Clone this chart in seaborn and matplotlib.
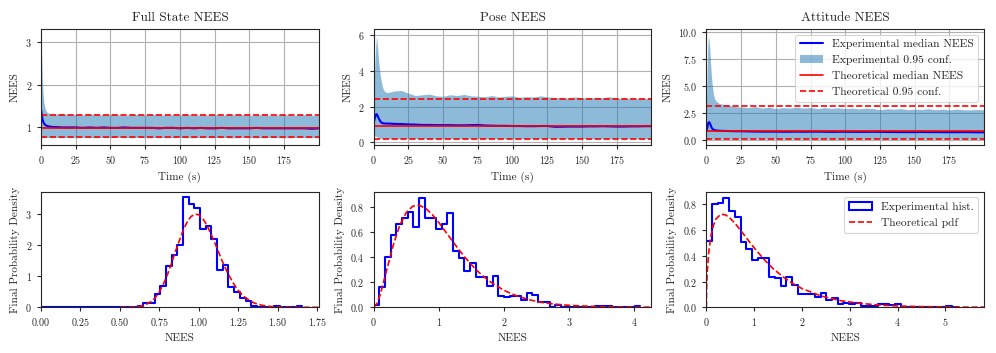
import numpy as np
import pandas as pd
import seaborn as sns
import matplotlib.pyplot as plt
from matplotlib.lines import Line2D
from matplotlib.patches import Patch
from matplotlib.ticker import MultipleLocator

titles = ['Full State NEES', 'Pose NEES', 'Attitude NEES']

# time axis (s)
time_s = [0, 0.5, 1, 1.5, 2, 2.5, 3, 3.5, 4, 5, 6, 7, 8, 9, 10,
          15, 20, 25, 30, 35, 40, 45, 50, 55, 60, 65, 70, 75, 80, 85, 90, 95, 100,
          105, 110, 115, 120, 125, 130, 135, 140, 145, 150, 155, 160, 165, 170, 175, 180,
          185, 190, 195, 199.9]

# full state
full_high = [3.15, 2.60, 2.05, 1.78, 1.60, 1.50, 1.44, 1.40, 1.37, 1.34, 1.33, 1.31, 1.32, 1.30, 1.31,
             1.33, 1.30, 1.31, 1.29, 1.32, 1.30, 1.29, 1.31, 1.30, 1.28, 1.31, 1.30, 1.29, 1.31, 1.30, 1.28, 1.30, 1.29,
             1.31, 1.28, 1.30, 1.29, 1.30, 1.28, 1.31, 1.29, 1.30, 1.28, 1.29, 1.30, 1.28, 1.29, 1.31, 1.28,
             1.29, 1.30, 1.28, 1.29]
full_low = [0.80, 0.79, 0.78, 0.78, 0.77, 0.77, 0.77, 0.76, 0.77, 0.76, 0.77, 0.76, 0.77, 0.76, 0.77,
            0.76, 0.77, 0.76, 0.77, 0.76, 0.76, 0.77, 0.76, 0.77, 0.76, 0.76, 0.77, 0.76, 0.76, 0.77, 0.76, 0.76, 0.77,
            0.76, 0.76, 0.77, 0.76, 0.76, 0.77, 0.76, 0.76, 0.77, 0.76, 0.76, 0.76, 0.77, 0.76, 0.76, 0.76,
            0.77, 0.76, 0.76, 0.76]
full_med = [1.42, 1.30, 1.20, 1.14, 1.10, 1.08, 1.06, 1.05, 1.04, 1.03, 1.02, 1.02, 1.01, 1.01, 1.01,
            1.00, 1.00, 1.00, 0.99, 1.00, 0.99, 1.00, 0.99, 0.99, 1.00, 0.99, 0.99, 0.99, 0.99, 0.98, 0.99, 0.99, 0.98,
            0.99, 0.98, 0.99, 0.98, 0.98, 0.99, 0.98, 0.98, 0.98, 0.98, 0.99, 0.98, 0.98, 0.98, 0.98, 0.98,
            0.98, 0.98, 0.97, 0.98]

# pose
pose_high = [3.00, 3.80, 4.60, 5.40, 5.95, 5.60, 5.10, 4.60, 4.20, 3.60, 3.20, 2.95, 2.85, 2.80, 2.78,
             2.88, 2.90, 2.75, 2.62, 2.66, 2.70, 2.60, 2.58, 2.66, 2.62, 2.68, 2.60, 2.58, 2.55, 2.62, 2.54, 2.58, 2.60,
             2.52, 2.56, 2.54, 2.60, 2.55, 2.50, 2.52, 2.48, 2.54, 2.50, 2.48, 2.52, 2.50, 2.55, 2.46, 2.48,
             2.46, 2.47, 2.45, 2.46]
pose_low = [0.33, 0.35, 0.36, 0.34, 0.32, 0.30, 0.28, 0.26, 0.24, 0.22, 0.21, 0.20, 0.20, 0.21, 0.20,
            0.20, 0.19, 0.21, 0.20, 0.20, 0.19, 0.20, 0.21, 0.20, 0.19, 0.20, 0.20, 0.21, 0.20, 0.19, 0.20, 0.20, 0.21,
            0.20, 0.19, 0.20, 0.20, 0.21, 0.20, 0.19, 0.20, 0.20, 0.21, 0.20, 0.19, 0.20, 0.20, 0.21, 0.20,
            0.20, 0.19, 0.20, 0.20]
pose_med = [1.10, 1.25, 1.40, 1.52, 1.58, 1.52, 1.45, 1.36, 1.28, 1.15, 1.08, 1.06, 1.05, 1.05, 1.05,
            1.03, 1.02, 1.00, 0.99, 0.97, 0.97, 0.96, 0.96, 0.96, 0.95, 0.95, 0.96, 0.97, 0.94, 0.93, 0.92, 0.92, 0.91,
            0.91, 0.90, 0.90, 0.91, 0.91, 0.87, 0.87, 0.88, 0.88, 0.88, 0.89, 0.89, 0.90, 0.89, 0.88, 0.88,
            0.89, 0.89, 0.90, 0.90]

# attitude
att_high = [3.20, 6.00, 8.50, 9.70, 9.20, 8.40, 7.20, 6.20, 5.40, 4.30, 3.80, 3.60, 3.50, 3.40, 3.35,
            3.25, 3.10, 3.05, 3.00, 3.10, 2.95, 3.05, 2.90, 3.00, 2.95, 3.05, 2.95, 3.00, 2.90, 3.00, 2.92, 2.98, 2.90,
            2.95, 2.88, 2.95, 2.90, 2.80, 2.88, 2.85, 2.90, 2.80, 2.85, 2.82, 2.88, 2.80, 2.85, 2.78, 2.85,
            2.80, 2.78, 2.82, 2.80]
att_low = [0.12, 0.12, 0.11, 0.10, 0.10, 0.09, 0.09, 0.09, 0.08, 0.08, 0.08, 0.08, 0.07, 0.08, 0.07,
           0.08, 0.07, 0.08, 0.07, 0.08, 0.07, 0.08, 0.07, 0.07, 0.08, 0.07, 0.08, 0.07, 0.07, 0.08, 0.07, 0.08, 0.07,
           0.07, 0.08, 0.07, 0.07, 0.08, 0.07, 0.07, 0.08, 0.07, 0.07, 0.08, 0.07, 0.07, 0.08, 0.07, 0.07,
           0.08, 0.07, 0.07, 0.07]
att_med = [0.80, 1.05, 1.35, 1.60, 1.65, 1.55, 1.40, 1.22, 1.08, 0.95, 0.90, 0.87, 0.86, 0.85, 0.84,
           0.82, 0.80, 0.80, 0.78, 0.77, 0.76, 0.76, 0.76, 0.75, 0.75, 0.76, 0.75, 0.76, 0.76, 0.75, 0.74, 0.75, 0.75,
           0.74, 0.74, 0.74, 0.75, 0.74, 0.73, 0.73, 0.72, 0.72, 0.72, 0.73, 0.72, 0.72, 0.71, 0.71, 0.71,
           0.72, 0.71, 0.70, 0.70]

theo_median = [0.995, 0.891, 0.789]
theo_low = [0.766, 0.206, 0.072]
theo_high = [1.297, 2.408, 3.116]

# final histograms (density per bin, bins start at 0)
bin_width = [0.036, 0.087, 0.1195]
hist_full = [0, 0, 0, 0, 0, 0, 0, 0, 0, 0, 0, 0, 0, 0, 0, 0, 0,
             0.05, 0.13, 0.13, 0.43, 0.68, 1.33, 1.67, 1.99, 3.52, 3.30, 3.19, 2.49, 2.61, 2.20,
             1.20, 1.35, 0.65, 0.48, 0.29, 0.21, 0.05, 0, 0, 0, 0.04, 0, 0, 0, 0.03]
hist_pose = [0.02, 0.16, 0.40, 0.57, 0.665, 0.71, 0.76, 0.64, 0.87, 0.71, 0.71, 0.62, 0.665, 0.745,
             0.45, 0.39, 0.285, 0.355, 0.24, 0.24, 0.17, 0.25, 0.09, 0.08, 0.09, 0.09, 0.06, 0.11,
             0.10, 0.04, 0.045, 0, 0.02, 0, 0, 0, 0, 0.006, 0.006, 0.012, 0.012, 0.012, 0, 0, 0, 0, 0.012]
hist_att = [0.516, 0.80, 0.81, 0.85, 0.75, 0.70, 0.51, 0.457, 0.37, 0.387, 0.38, 0.237, 0.225, 0.165,
            0.237, 0.173, 0.10, 0.10, 0.10, 0.077, 0.11, 0.06, 0.07, 0.023, 0.03, 0.025, 0.03, 0.01,
            0.01, 0.01, 0.025, 0.025, 0.015, 0.025, 0.005, 0.005, 0.005, 0, 0, 0, 0, 0, 0.008, 0]

# theoretical pdfs
pdf_full_x = [0.50, 0.55, 0.60, 0.65, 0.70, 0.725, 0.75, 0.775, 0.80, 0.825, 0.85, 0.875, 0.90, 0.925,
              0.95, 0.975, 1.00, 1.025, 1.05, 1.075, 1.10, 1.125, 1.15, 1.175, 1.20, 1.225, 1.25, 1.275,
              1.30, 1.35, 1.40, 1.45, 1.50, 1.55, 1.60, 1.65, 1.76]
pdf_full_y = [0.0, 0.002, 0.011, 0.054, 0.187, 0.315, 0.498, 0.738, 1.03, 1.38, 1.76, 2.11, 2.45, 2.72,
              2.90, 2.98, 2.96, 2.84, 2.64, 2.37, 2.08, 1.77, 1.46, 1.18, 0.94, 0.72, 0.54, 0.40,
              0.29, 0.14, 0.064, 0.027, 0.011, 0.004, 0.0015, 0.0005, 0.0]
pdf_pose_x = [0, 0.05, 0.1, 0.2, 0.3, 0.4, 0.5, 0.6, 0.7, 0.8, 0.9, 1.0, 1.1, 1.2, 1.3, 1.4, 1.5, 1.6,
              1.7, 1.8, 2.0, 2.2, 2.4, 2.6, 2.8, 3.0, 3.4, 3.8, 4.26]
pdf_pose_y = [0, 0.029, 0.100, 0.296, 0.494, 0.651, 0.753, 0.803, 0.810, 0.784, 0.735, 0.672, 0.602,
              0.531, 0.462, 0.397, 0.337, 0.284, 0.238, 0.198, 0.134, 0.089, 0.058, 0.037, 0.024,
              0.015, 0.006, 0.002, 0.001]
pdf_att_x = [0, 0.005, 0.01, 0.02, 0.05, 0.1, 0.15, 0.2, 0.3, 0.4, 0.5, 0.6, 0.7, 0.8, 1.0, 1.2, 1.4,
             1.6, 1.8, 2.0, 2.4, 2.8, 3.2, 3.6, 4.0, 4.5, 5.0, 5.5, 5.81]
pdf_att_y = [0, 0.145, 0.204, 0.284, 0.430, 0.564, 0.641, 0.687, 0.724, 0.720, 0.692, 0.653, 0.607,
             0.558, 0.463, 0.375, 0.300, 0.238, 0.187, 0.146, 0.088, 0.052, 0.031, 0.018, 0.010,
             0.005, 0.003, 0.001, 0.001]

highs = [full_high, pose_high, att_high]
lows = [full_low, pose_low, att_low]
meds = [full_med, pose_med, att_med]
hists = [hist_full, hist_pose, hist_att]
pdf_xs = [pdf_full_x, pdf_pose_x, pdf_att_x]
pdf_ys = [pdf_full_y, pdf_pose_y, pdf_att_y]

top_ylims = [(0.6, 3.3), (-0.13, 6.35), (-0.44, 10.3)]
top_ystep = [1, 2, 2.5]
bot_xmax = [1.76, 4.26, 5.81]
bot_ymax = [3.7, 0.918, 0.9]
bot_xstep = [0.25, 1, 1]
bot_ystep = [1, 0.2, 0.2]

sns.set_theme(context='paper', style='ticks')
plt.rcParams.update({
    'font.family': 'serif', 'font.serif': ['cmr10'], 'mathtext.fontset': 'cm',
    'axes.formatter.use_mathtext': True, 'axes.unicode_minus': False,
    'font.size': 8, 'axes.labelsize': 8.1, 'xtick.labelsize': 7.2, 'ytick.labelsize': 7.2,
    'legend.fontsize': 8.3, 'axes.titlesize': 9.5,
    'axes.edgecolor': '.15', 'axes.linewidth': 0.8,
    'xtick.major.size': 3, 'ytick.major.size': 3,
    'xtick.major.width': 0.8, 'ytick.major.width': 0.8,
})

band_color = '#1f77b4'
fig, axes = plt.subplots(2, 3, figsize=(9.96, 3.53), dpi=100)
fig.subplots_adjust(left=0.0412, right=0.988, top=0.918, bottom=0.1295, wspace=0.198, hspace=0.407)

for i, ax in enumerate(axes[0]):
    ax.grid(True, color='#b0b0b0', linewidth=0.8)
    ax.fill_between(time_s, lows[i], highs[i], color=band_color, alpha=0.5, linewidth=0)
    sns.lineplot(x=time_s, y=meds[i], color='blue', linewidth=1.5, ax=ax)
    ax.axhline(theo_median[i], color='red', linewidth=1.2)
    ax.axhline(theo_low[i], color='red', linestyle='--', linewidth=1.2)
    ax.axhline(theo_high[i], color='red', linestyle='--', linewidth=1.2)
    ax.set_xlim(0, 199.9)
    ax.set_ylim(*top_ylims[i])
    ax.xaxis.set_major_locator(MultipleLocator(25))
    ax.yaxis.set_major_locator(MultipleLocator(top_ystep[i]))
    ax.set_title(titles[i])
    ax.set_xlabel('Time (s)')
    ax.set_ylabel('NEES')

handles = [Line2D([], [], color='blue', linewidth=1.5),
           Patch(facecolor=band_color, alpha=0.5, linewidth=0),
           Line2D([], [], color='red', linewidth=1.2),
           Line2D([], [], color='red', linestyle='--', linewidth=1.2)]
axes[0, 2].legend(handles, ['Experimental median NEES', 'Experimental 0.95 conf.',
                            'Theoretical median NEES', 'Theoretical 0.95 conf.'],
                  loc='upper right')

for i, ax in enumerate(axes[1]):
    w = bin_width[i]
    edges = [k * w for k in range(len(hists[i]) + 1)]
    df = pd.DataFrame({'nees': [e + w / 2 for e in edges[:-1]], 'density': hists[i]})
    sns.histplot(data=df, x='nees', weights='density', bins=edges, element='step', fill=False,
                 color='blue', linewidth=1.5, ax=ax)
    sns.lineplot(x=pdf_xs[i], y=pdf_ys[i], color='red', linestyle='--', linewidth=1.2, ax=ax)
    ax.set_xlim(0, bot_xmax[i])
    ax.set_ylim(0, bot_ymax[i])
    ax.xaxis.set_major_locator(MultipleLocator(bot_xstep[i]))
    ax.yaxis.set_major_locator(MultipleLocator(bot_ystep[i]))
    ax.set_xlabel('NEES')
    ax.set_ylabel('Final Probability Density')

axes[1, 2].legend([Patch(facecolor='none', edgecolor='blue', linewidth=1.5),
                   Line2D([], [], color='red', linestyle='--', linewidth=1.2)],
                  ['Experimental hist.', 'Theoretical pdf'], loc='upper right')

fig.savefig('out.png', dpi=100)
